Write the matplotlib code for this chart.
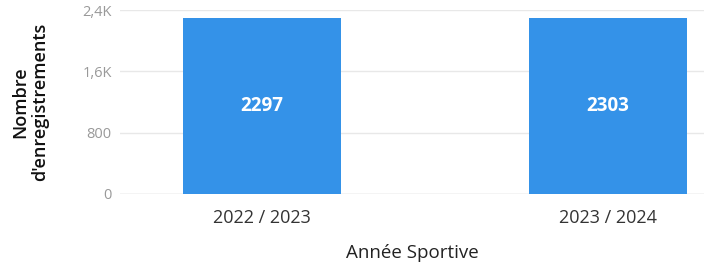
import matplotlib.pyplot as plt

# data
categories = ['2022 / 2023', '2023 / 2024']
values = [2297, 2303]
yticks = [0, 800, 1600, 2400]
ytick_labels = ['0', '800', '1,6K', '2,4K']

plt.rcParams['font.family'] = ['Open Sans', 'DejaVu Sans']

fig = plt.figure(figsize=(7.04, 2.65), dpi=100)
ax = fig.add_axes([0.1705, 0.268, 0.8295, 0.694])

x = range(len(categories))
bars = ax.bar(x, values, width=0.457, color='#3492e8', zorder=3)

for b, v in zip(bars, values):
    ax.text(b.get_x() + b.get_width() / 2, v / 2, str(v), ha='center', va='center',
            color='white', fontsize=13.5, fontweight='bold', zorder=4)

ax.set_xlim(-0.41, 1.277)
ax.set_ylim(0, 2400)
ax.set_yticks(yticks)
ax.set_yticklabels(ytick_labels, color='#999999', fontsize=10.5)
ax.set_xticks(list(x))
ax.set_xticklabels(categories, fontsize=13, color='#333333')
ax.tick_params(axis='both', length=0)
ax.tick_params(axis='y', pad=6)
ax.tick_params(axis='x', pad=11)

ax.grid(True, axis='y', color='#e8e8e8', linewidth=1, zorder=0)
for s in ax.spines.values():
    s.set_visible(False)
ax.axhline(0, color='#dddddd', linewidth=1, zorder=2)

ax.set_xlabel('Année Sportive', fontsize=13.5, color='#222222', labelpad=12)
ax.set_ylabel("Nombre\nd'enregistrements", fontsize=13, color='#111111',
              fontweight='semibold', labelpad=24, linespacing=1.15)

fig.savefig('out.png', dpi=100)
